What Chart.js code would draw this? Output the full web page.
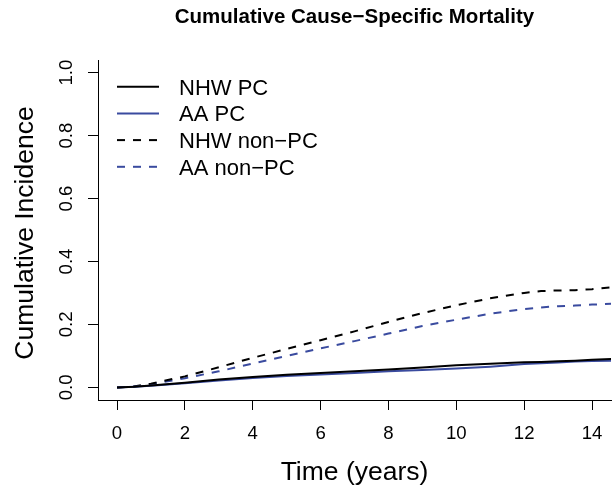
<!DOCTYPE html>
<html>
<head>
<meta charset="utf-8">
<script src="https://cdn.jsdelivr.net/npm/chart.js@4/dist/chart.umd.min.js"></script>
<style>
  html, body { margin: 0; padding: 0; background: #ffffff; }
  #wrap { width: 612px; height: 491px; position: relative; }
</style>
</head>
<body>
<div id="wrap"><canvas id="c" width="612" height="491"></canvas></div>
<script>
// ---- data ----
const timeYears   = [0, 0.5, 1, 2, 3, 4, 5, 6, 7, 8, 9, 10, 11, 12, 12.5, 13, 13.5, 14, 14.6];
const nhwPC       = [0, 0.002, 0.006, 0.015, 0.025, 0.033, 0.040, 0.046, 0.051, 0.057, 0.063, 0.070, 0.075, 0.080, 0.081, 0.083, 0.085, 0.088, 0.090];
const aaPC        = [0, 0.002, 0.005, 0.013, 0.022, 0.030, 0.036, 0.041, 0.046, 0.051, 0.055, 0.060, 0.066, 0.074, 0.077, 0.079, 0.082, 0.084, 0.085];
const nhwNonPC    = [0, 0.003, 0.012, 0.035, 0.064, 0.094, 0.122, 0.150, 0.178, 0.208, 0.236, 0.261, 0.283, 0.300, 0.306, 0.308, 0.309, 0.312, 0.318];
const aaNonPC     = [0, 0.002, 0.010, 0.029, 0.051, 0.076, 0.100, 0.124, 0.147, 0.171, 0.195, 0.215, 0.234, 0.249, 0.254, 0.258, 0.260, 0.263, 0.266];
const seriesLabels = ["NHW PC", "AA PC", "NHW non\u2212PC", "AA non\u2212PC"];
const xTickValues = [0, 2, 4, 6, 8, 10, 12, 14];
const yTickValues = [0, 0.2, 0.4, 0.6, 0.8, 1.0];
const yTickLabels = ["0.0", "0.2", "0.4", "0.6", "0.8", "1.0"];
const xTickLabels = ["0", "2", "4", "6", "8", "10", "12", "14"];
const chartTitle = "Cumulative Cause\u2212Specific Mortality";
const xTitle = "Time (years)";
const yTitle = "Cumulative Incidence";

const BLACK = "#000000";
const BLUE = "#3a4b9f";
const FONT = "'Liberation Sans', Arial, Helvetica, sans-serif";

function pts(vals) { return timeYears.map((t, i) => ({ x: t, y: vals[i] })); }

const datasets = [
  { label: seriesLabels[0], data: pts(nhwPC),    borderColor: BLACK, borderWidth: 2, borderDash: [] },
  { label: seriesLabels[1], data: pts(aaPC),     borderColor: BLUE,  borderWidth: 2, borderDash: [] },
  { label: seriesLabels[2], data: pts(nhwNonPC), borderColor: BLACK, borderWidth: 2, borderDash: [8, 8] },
  { label: seriesLabels[3], data: pts(aaNonPC),  borderColor: BLUE,  borderWidth: 2, borderDash: [8, 8] }
].map(d => Object.assign(d, { pointRadius: 0, fill: false, tension: 0, backgroundColor: d.borderColor }));

const textPlugin = {
  id: 'rtext',
  afterDraw(chart) {
    const ctx = chart.ctx;
    const xs = chart.scales.x, ys = chart.scales.y;
    const ca = chart.chartArea;
    const cx = (ca.left + ca.right) / 2;
    const cy = (ca.top + ca.bottom) / 2;
    ctx.save();
    ctx.fillStyle = '#000';
    // title
    ctx.font = "bold 20.5px " + FONT;
    ctx.textAlign = 'center';
    ctx.textBaseline = 'alphabetic';
    ctx.fillText(chartTitle, cx, 23);
    // x tick labels
    ctx.font = "18.6px " + FONT;
    xs.ticks.forEach((t, i) => {
      const idx = xTickValues.indexOf(t.value);
      ctx.fillText(xTickLabels[idx], xs.getPixelForValue(t.value), 439);
    });
    // y tick labels (rotated)
    ys.ticks.forEach((t) => {
      const idx = yTickValues.indexOf(t.value);
      ctx.save();
      ctx.translate(72, ys.getPixelForValue(t.value));
      ctx.rotate(-Math.PI / 2);
      ctx.textAlign = 'center';
      ctx.fillText(yTickLabels[idx], 0, 0);
      ctx.restore();
    });
    // axis titles
    ctx.font = "26.5px " + FONT;
    ctx.fillText(xTitle, cx, 480);
    ctx.save();
    ctx.translate(33, cy + 3);
    ctx.rotate(-Math.PI / 2);
    ctx.fillText(yTitle, 0, 0);
    ctx.restore();
    // legend
    ctx.font = "22px " + FONT;
    ctx.textAlign = 'left';
    chart.data.datasets.forEach((d, i) => {
      const y = 86.7 + i * 26.7;
      ctx.save();
      ctx.strokeStyle = d.borderColor;
      ctx.lineWidth = 2;
      ctx.setLineDash(d.borderDash);
      ctx.beginPath();
      ctx.moveTo(117, y);
      ctx.lineTo(159, y);
      ctx.stroke();
      ctx.restore();
      ctx.fillText(d.label, 179, y + 7.9);
    });
    ctx.restore();
  }
};

new Chart(document.getElementById('c'), {
  type: 'line',
  data: { datasets },
  options: {
    responsive: false,
    animation: false,
    devicePixelRatio: 1,
    layout: { padding: { top: 60, right: 1, left: 0, bottom: 0 } },
    plugins: { legend: { display: false }, title: { display: false }, tooltip: { enabled: false } },
    scales: {
      x: {
        type: 'linear', min: -0.56, max: 14.56,
        afterBuildTicks: s => { s.ticks = xTickValues.map(v => ({ value: v })); },
        afterFit: s => { s.height = 91; },
        ticks: { display: false },
        grid: { drawOnChartArea: false, drawTicks: true, tickLength: 10, color: '#000', lineWidth: 1 },
        border: { display: true, color: '#000', width: 1 }
      },
      y: {
        type: 'linear', min: -0.04, max: 1.04,
        afterBuildTicks: s => { s.ticks = yTickValues.map(v => ({ value: v })); },
        afterFit: s => { s.width = 98; },
        ticks: { display: false },
        grid: { drawOnChartArea: false, drawTicks: true, tickLength: 10, color: '#000', lineWidth: 1 },
        border: { display: true, color: '#000', width: 1 }
      }
    }
  },
  plugins: [textPlugin]
});
</script>
</body>
</html>
